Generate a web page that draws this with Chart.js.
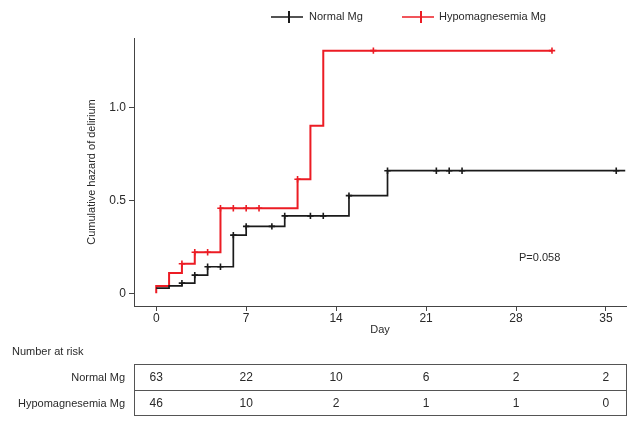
<!DOCTYPE html>
<html>
<head>
<meta charset="utf-8">
<script src="https://cdn.jsdelivr.net/npm/chart.js@4.4.1/dist/chart.umd.min.js"></script>
<style>
html,body{margin:0;padding:0;background:#fff;}
#wrap{width:640px;height:428px;position:relative;}
</style>
</head>
<body>
<div id="wrap"><canvas id="c" width="640" height="428"></canvas></div>
<script>
// ---- data ----
const seriesNames = ['Normal Mg', 'Hypomagnesemia Mg'];
const xTicks = [0, 7, 14, 21, 28, 35];
const yTicks = [0, 0.5, 1.0];

const normalTime   = [0, 1, 2, 3, 4, 6, 7, 10, 15, 18, 36.5];
const normalHazard = [0.028, 0.040, 0.055, 0.098, 0.143, 0.313, 0.360, 0.416, 0.525, 0.659, 0.659];
const normalCensorTime   = [2, 3, 4, 5, 6, 7, 9, 10, 12, 13, 15, 18, 21.8, 22.8, 23.8, 35.8];
const normalCensorHazard = [0.055, 0.098, 0.143, 0.143, 0.313, 0.360, 0.360, 0.416, 0.416, 0.416, 0.525, 0.659, 0.659, 0.659, 0.659, 0.659];

const hypoTime   = [0, 0, 1, 2, 3, 5, 11, 12, 13, 30.8];
const hypoHazard = [0, 0.039, 0.109, 0.159, 0.221, 0.457, 0.613, 0.900, 1.304, 1.304];
const hypoCensorTime   = [2, 3, 4, 5, 6, 7, 8, 11, 16.9, 30.8];
const hypoCensorHazard = [0.159, 0.221, 0.221, 0.457, 0.457, 0.457, 0.457, 0.613, 1.304, 1.304];

const riskNormal = [63, 22, 10, 6, 2, 2];
const riskHypo   = [46, 10, 2, 1, 1, 0];
const pValueText = 'P=0.058';

// ---- styling ----
const FONT = '"Liberation Sans", Arial, sans-serif';
const BLACK = '#1a1a1a';
const RED = '#ec1c24';
const AXIS = '#444';
const TEXT = '#2a2a2a';

const pts = (xs, ys) => xs.map((x, i) => ({x: x, y: ys[i]}));

const overlay = {
  id: 'overlay',
  afterDraw(chart) {
    const ctx = chart.ctx;
    const xs = chart.scales.x;
    const area = chart.chartArea;
    ctx.save();
    // legend
    const ly = 17;
    const legend = [
      {color: BLACK, x0: 271, x1: 303, cx: 289, tx: 309, label: seriesNames[0]},
      {color: RED, x0: 402, x1: 434, cx: 421, tx: 439, label: seriesNames[1]}
    ];
    legend.forEach(l => {
      ctx.strokeStyle = l.color;
      ctx.lineWidth = 1.5;
      ctx.beginPath(); ctx.moveTo(l.x0, ly); ctx.lineTo(l.x1, ly); ctx.stroke();
      ctx.lineWidth = 2;
      ctx.beginPath(); ctx.moveTo(l.cx, ly - 6); ctx.lineTo(l.cx, ly + 6); ctx.stroke();
      ctx.fillStyle = TEXT;
      ctx.font = '11px ' + FONT;
      ctx.textAlign = 'left';
      ctx.textBaseline = 'middle';
      ctx.fillText(l.label, l.tx, ly);
    });
    // p value
    ctx.fillStyle = TEXT;
    ctx.font = '11px ' + FONT;
    ctx.textAlign = 'left';
    ctx.textBaseline = 'middle';
    ctx.fillText(pValueText, 519, 258);
    // number at risk table
    ctx.fillText('Number at risk', 12, 352);
    const top = 364, mid = 390, bot = 415;
    ctx.strokeStyle = '#555';
    ctx.lineWidth = 1;
    ctx.strokeRect(area.left + 0.5, top + 0.5, area.right - area.left, bot - top);
    ctx.beginPath(); ctx.moveTo(area.left, mid + 0.5); ctx.lineTo(area.right, mid + 0.5); ctx.stroke();
    ctx.font = '11px ' + FONT;
    ctx.textAlign = 'right';
    ctx.fillText(seriesNames[0], 125, (top + mid) / 2 + 1);
    ctx.fillText(seriesNames[1], 125, (mid + bot) / 2 + 1);
    ctx.textAlign = 'center';
    ctx.font = '12px ' + FONT;
    xTicks.forEach((t, i) => {
      const px = xs.getPixelForValue(t);
      ctx.fillText(String(riskNormal[i]), px, (top + mid) / 2 + 1);
      ctx.fillText(String(riskHypo[i]), px, (mid + bot) / 2 + 1);
    });
    ctx.restore();
  }
};

new Chart(document.getElementById('c'), {
  type: 'line',
  data: {
    datasets: [
      {label: seriesNames[0], data: pts(normalTime, normalHazard), stepped: true,
       borderColor: BLACK, borderWidth: 1.7, pointRadius: 0, fill: false},
      {label: seriesNames[1], data: pts(hypoTime, hypoHazard), stepped: true,
       borderColor: RED, borderWidth: 2, pointRadius: 0, fill: false},
      {label: seriesNames[0] + ' censored', data: pts(normalCensorTime, normalCensorHazard), showLine: false,
       pointStyle: 'cross', pointRadius: 3.2, pointBorderWidth: 1.6, pointBorderColor: BLACK, borderColor: BLACK},
      {label: seriesNames[1] + ' censored', data: pts(hypoCensorTime, hypoCensorHazard), showLine: false,
       pointStyle: 'cross', pointRadius: 3.2, pointBorderWidth: 1.6, pointBorderColor: RED, borderColor: RED}
    ]
  },
  options: {
    responsive: false,
    devicePixelRatio: 1,
    animation: false,
    layout: {padding: {left: 80, right: 14, top: 38, bottom: 90}},
    plugins: {legend: {display: false}, tooltip: {enabled: false}},
    scales: {
      x: {
        type: 'linear', min: -1.73, max: 36.56,
        afterBuildTicks: s => { s.ticks = xTicks.map(v => ({value: v})); },
        afterFit: s => { s.height = 32; },
        ticks: {color: TEXT, font: {family: FONT, size: 12}, padding: 0, maxRotation: 0,
                callback: v => String(v)},
        grid: {display: true, drawOnChartArea: false, drawTicks: true, tickLength: 5, color: AXIS},
        border: {display: true, color: AXIS, width: 1},
        title: {display: true, text: 'Day', color: TEXT, font: {family: FONT, size: 11}, padding: {top: 0, bottom: 1}}
      },
      y: {
        type: 'linear', min: -0.068, max: 1.372,
        afterBuildTicks: s => { s.ticks = yTicks.map(v => ({value: v})); },
        afterFit: s => { s.width = 54; },
        ticks: {color: TEXT, font: {family: FONT, size: 12}, padding: 3,
                callback: v => (v === 0 ? '0' : v.toFixed(1))},
        grid: {display: true, drawOnChartArea: false, drawTicks: true, tickLength: 5, color: AXIS},
        border: {display: true, color: AXIS, width: 1},
        title: {display: true, text: 'Cumulative hazard of delirium', color: TEXT, font: {family: FONT, size: 11}, padding: {top: 5, bottom: 0}}
      }
    }
  },
  plugins: [overlay]
});
</script>
</body>
</html>
